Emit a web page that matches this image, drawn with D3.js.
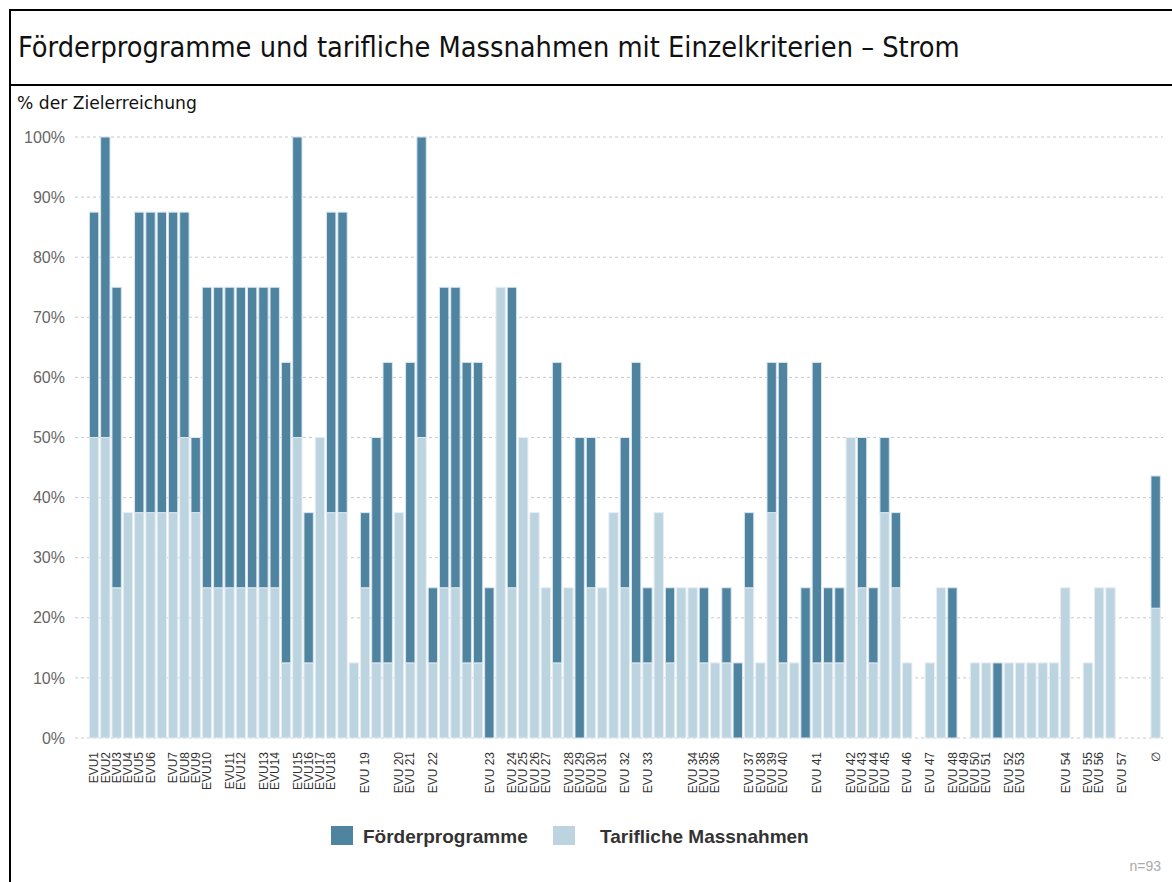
<!DOCTYPE html>
<html>
<head>
<meta charset="utf-8">
<script src="https://cdn.jsdelivr.net/npm/d3@7"></script>
<style>
  body { margin: 0; background: #fff; }
</style>
</head>
<body>
<svg id="chart" width="1172" height="882"></svg>
<script>
// one entry per bar slot, "" = no label shown; slot 93 is the blank gap before the average
const labels = ["EVU1","EVU2","EVU3","EVU4","EVU5","EVU6","","EVU7","EVU8","EVU9",
  "EVU10","","EVU11","EVU12","","EVU13","EVU14","","EVU15","EVU16",
  "EVU17","EVU18","","","EVU 19","","","EVU 20","EVU 21","",
  "EVU 22","","","","","EVU 23","","EVU 24","EVU 25","EVU 26",
  "EVU 27","","EVU 28","EVU 29","EVU 30","EVU 31","","EVU 32","","EVU 33",
  "","","","EVU 34","EVU 35","EVU 36","","","EVU 37","EVU 38",
  "EVU 39","EVU 40","","","EVU 41","","","EVU 42","EVU 43","EVU 44",
  "EVU 45","","EVU 46","","EVU 47","","EVU 48","EVU 49","EVU 50","EVU 51",
  "","EVU 52","EVU 53","","","","EVU 54","","EVU 55","EVU 56",
  "","EVU 57","","","\u2205"];

// Tarifliche Massnahmen (light, bottom)
const tarif = [50,50,25,37.5,37.5,37.5,37.5,37.5,50,37.5,
  25,25,25,25,25,25,25,12.5,50,12.5,
  50,37.5,37.5,12.5,25,12.5,12.5,37.5,12.5,50,
  12.5,25,25,12.5,12.5,0,75,25,50,37.5,
  25,12.5,25,0,25,25,37.5,25,12.5,12.5,
  37.5,12.5,25,25,12.5,12.5,12.5,0,25,12.5,
  37.5,12.5,12.5,0,12.5,12.5,12.5,50,25,12.5,
  37.5,25,12.5,0,12.5,25,0,0,12.5,12.5,
  0,12.5,12.5,12.5,12.5,12.5,25,0,12.5,25,
  25,0,0,0,21.6];

// Förderprogramme (dark, stacked on top)
const foerder = [37.5,50,50,0,50,50,50,50,37.5,12.5,
  50,50,50,50,50,50,50,50,50,25,
  0,50,50,0,12.5,37.5,50,0,50,50,
  12.5,50,50,50,50,25,0,50,0,0,
  0,50,0,50,25,0,0,25,50,12.5,
  0,12.5,0,0,12.5,0,12.5,12.5,12.5,0,
  25,50,0,25,50,12.5,12.5,0,25,12.5,
  12.5,12.5,0,0,0,0,25,0,0,0,
  12.5,0,0,0,0,0,0,0,0,0,
  0,0,0,0,22.0];

const yTicks = [0,10,20,30,40,50,60,70,80,90,100];
const seriesNames = ["Förderprogramme", "Tarifliche Massnahmen"];
const colDark = "#4f84a1", colLight = "#bcd3e0";

const rows = labels.map((l, i) => ({i: i, label: l, t: tarif[i], f: foerder[i]}));

const svg = d3.select("#chart");

// frame + title
svg.append("rect").attr("x", 10).attr("y", 10).attr("width", 1180).attr("height", 900)
  .attr("fill", "none").attr("stroke", "#000").attr("stroke-width", 2);
svg.append("line").attr("x1", 10).attr("x2", 1172).attr("y1", 85).attr("y2", 85)
  .attr("stroke", "#000").attr("stroke-width", 2);

const title = svg.append("text").attr("x", 18).attr("y", 57)
  .attr("font-family", "'DejaVu Sans Condensed', 'DejaVu Sans', sans-serif")
  .attr("font-size", 24).attr("fill", "#111")
  .text("Förderprogramme und tarifliche Massnahmen mit Einzelkriterien \u2013 Strom");
let tw = title.node().getComputedTextLength();
title.attr("font-size", 24 * 942 / tw);

const sub = svg.append("text").attr("x", 17).attr("y", 109)
  .attr("font-family", "'DejaVu Sans', sans-serif").attr("font-size", 15).attr("fill", "#111")
  .text("% der Zielerreichung");
tw = sub.node().getComputedTextLength();
sub.attr("font-size", 15 * 180 / tw);

// scales
const x = d3.scaleBand().domain(d3.range(labels.length))
  .range([88.4, 1161.3]).paddingInner(0.17).paddingOuter(0.085);
const y = d3.scaleLinear().domain([0, 100]).range([738, 137]);

// grid
svg.append("g").selectAll("line").data(yTicks).join("line")
  .attr("x1", 75).attr("x2", 1163)
  .attr("y1", d => y(d)).attr("y2", d => y(d))
  .attr("stroke", "#c8c8c8").attr("stroke-dasharray", "3,3");

svg.append("g").selectAll("text").data(yTicks).join("text")
  .attr("x", 65).attr("y", d => y(d)).attr("dy", "0.35em")
  .attr("text-anchor", "end")
  .attr("font-family", "'Liberation Sans', Arial, sans-serif").attr("font-size", 16)
  .attr("fill", "#666").text(d => d + "%");

// bars
const bars = svg.append("g");
bars.selectAll("rect.light").data(rows.filter(r => r.t > 0)).join("rect").attr("class", "light")
  .attr("x", r => x(r.i)).attr("width", x.bandwidth())
  .attr("y", r => y(r.t)).attr("height", r => y(0) - y(r.t))
  .attr("fill", colLight).attr("stroke", "#e6eef3").attr("stroke-width", 1);

bars.selectAll("rect.dark").data(rows.filter(r => r.f > 0)).join("rect").attr("class", "dark")
  .attr("x", r => x(r.i)).attr("width", x.bandwidth())
  .attr("y", r => y(r.t + r.f)).attr("height", r => y(r.t) - y(r.t + r.f))
  .attr("fill", colDark).attr("stroke", "#dbe6ee").attr("stroke-width", 1);

// x labels (rotated)
svg.append("g").selectAll("text").data(rows).join("text")
  .attr("transform", r => `translate(${x(r.i) + x.bandwidth() / 2},752) rotate(-90)`)
  .attr("dy", "0.35em").attr("text-anchor", "end")
  .attr("font-family", "'Liberation Sans', Arial, sans-serif").attr("font-size", 12)
  .attr("fill", "#333").text(r => r.label);

// legend
const legend = svg.append("g");
const legX = [331, 553], legTextX = [363, 600], legCols = [colDark, colLight];
seriesNames.forEach((name, k) => {
  legend.append("rect").attr("x", legX[k]).attr("y", 826).attr("width", 22).attr("height", 19)
    .attr("fill", legCols[k]);
  legend.append("text").attr("x", legTextX[k]).attr("y", 843)
    .attr("font-family", "'Liberation Sans', Arial, sans-serif").attr("font-size", 19)
    .attr("font-weight", "bold").attr("fill", "#333").text(name);
});

svg.append("text").attr("x", 1161).attr("y", 871).attr("text-anchor", "end")
  .attr("font-family", "'Liberation Sans', Arial, sans-serif").attr("font-size", 14)
  .attr("fill", "#aaa").text("n=93");
</script>
</body>
</html>
